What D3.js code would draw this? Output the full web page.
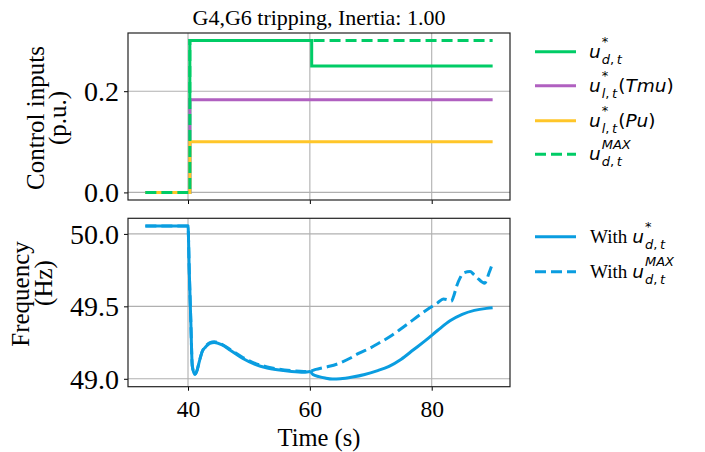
<!DOCTYPE html>
<html>
<head>
<meta charset="utf-8">
<script src="https://cdn.jsdelivr.net/npm/d3@7"></script>
<style>
  html, body { margin: 0; padding: 0; background: #fff; }
  svg { display: block; }
</style>
</head>
<body>
<svg id="chart" width="705" height="452"></svg>
<script>
// ---------------- DATA ----------------
const titleText = "G4,G6 tripping, Inertia: 1.00";
const xTicks = [40, 60, 80];
const topYTicks = [0.0, 0.2];
const bottomYTicks = [49.0, 49.5, 50.0];

// Control inputs (step functions)
const ctrlTime = [33, 40.3, 60.3, 90];
const udStar   = [0, 0.30, 0.25, 0.25];
const ulTmu    = [0, 0.183, 0.183, 0.183];
const ulPu     = [0, 0.10, 0.10, 0.10];
const udMax    = [0, 0.30, 0.30, 0.30];

// Frequency with u*_{d,t}
const freqTimeA = [33, 40.0, 40.2, 40.45, 40.7, 41.1, 41.5, 41.8, 42.35, 42.9, 43.6, 44.3, 45.5, 47, 49, 51, 53, 55, 57, 59, 60, 60.5, 61.5, 62.5, 63.7, 65, 67, 69, 71, 73, 75, 77, 79, 81, 83, 85, 87, 89, 90];
const freqA     = [50.055, 50.055, 49.75, 49.41, 49.09, 49.03, 49.06, 49.11, 49.19, 49.22, 49.245, 49.25, 49.235, 49.195, 49.14, 49.10, 49.075, 49.06, 49.05, 49.045, 49.05, 49.03, 49.015, 49.005, 48.998, 49.0, 49.012, 49.03, 49.055, 49.086, 49.135, 49.20, 49.265, 49.335, 49.40, 49.445, 49.472, 49.486, 49.49];

// Frequency with u^MAX_{d,t}
const freqTimeB = [33, 40.0, 40.2, 40.45, 40.7, 41.1, 41.5, 41.8, 42.35, 42.9, 43.6, 44.3, 45.5, 47, 49, 51, 53, 55, 57, 59, 60, 61, 62, 63.2, 65, 66.5, 68, 69.8, 71.5, 73.1, 74.8, 76.4, 78, 79.7, 81, 81.9, 82.6, 83.2, 83.6, 84.1, 84.7, 85.2, 86.3, 86.9, 87.4, 88.7, 89.4, 90];
const freqB     = [50.055, 50.055, 49.75, 49.41, 49.09, 49.03, 49.06, 49.11, 49.19, 49.225, 49.25, 49.255, 49.24, 49.20, 49.147, 49.107, 49.082, 49.066, 49.056, 49.05, 49.052, 49.065, 49.075, 49.086, 49.11, 49.14, 49.175, 49.21, 49.25, 49.29, 49.34, 49.39, 49.44, 49.49, 49.525, 49.55, 49.545, 49.535, 49.57, 49.64, 49.70, 49.73, 49.74, 49.72, 49.70, 49.66, 49.73, 49.80];

// ---------------- STYLE ----------------
const C_GREEN = "#00cc66", C_PURPLE = "#b060c0", C_YELLOW = "#ffc629", C_BLUE = "#0a9de0";
const SERIF = "'Liberation Serif', 'Times New Roman', serif";
const SANS = "'DejaVu Sans', sans-serif";

const svg = d3.select("#chart");
const L = 128, R = 510;
const topBox = {y0: 33, y1: 200};
const botBox = {y0: 218.3, y1: 386.7};

const x = d3.scaleLinear().domain([30.15, 92.85]).range([L, R]);
const yTop = d3.scaleLinear().domain([-0.015, 0.315]).range([topBox.y1, topBox.y0]);
const yBot = d3.scaleLinear().domain([48.9454, 50.1076]).range([botBox.y1, botBox.y0]);

function drawAxes(box, y, yTicks, fmt, showXLabels) {
  const g = svg.append("g");
  g.selectAll(".gx").data(xTicks).enter().append("line")
    .attr("x1", d => x(d)).attr("x2", d => x(d))
    .attr("y1", box.y0).attr("y2", box.y1)
    .attr("stroke", "#b0b0b0").attr("stroke-width", 1.1);
  g.selectAll(".gy").data(yTicks).enter().append("line")
    .attr("x1", L).attr("x2", R)
    .attr("y1", d => y(d)).attr("y2", d => y(d))
    .attr("stroke", "#b0b0b0").attr("stroke-width", 1.1);
  const xa = d3.axisBottom(x).tickValues(xTicks).tickSize(4).tickPadding(6)
    .tickFormat(showXLabels ? d3.format("d") : "");
  const xg = svg.append("g").attr("transform", `translate(0,${box.y1})`).call(xa);
  xg.select(".domain").remove();
  xg.selectAll("line").attr("stroke", "#000").attr("stroke-width", 1);
  xg.selectAll("text").attr("font-family", SERIF).attr("font-size", 23.6).attr("fill", "#000")
    .attr("dy", null).attr("y", 30.5);
  const ya = d3.axisLeft(y).tickValues(yTicks).tickSize(4).tickPadding(5).tickFormat(fmt);
  const yg = svg.append("g").attr("transform", `translate(${L},0)`).call(ya);
  yg.select(".domain").remove();
  yg.selectAll("line").attr("stroke", "#000").attr("stroke-width", 1);
  yg.selectAll("text").attr("font-family", SERIF).attr("font-size", 28).attr("fill", "#000")
    .attr("dy", "0.34em");
  return g;
}

function frame(box) {
  svg.append("rect").attr("x", L).attr("y", box.y0)
    .attr("width", R - L).attr("height", box.y1 - box.y0)
    .attr("fill", "none").attr("stroke", "#222").attr("stroke-width", 1.2);
}

// ---------- Top panel ----------
drawAxes(topBox, yTop, topYTicks, d3.format(".1f"), false);
svg.append("clipPath").attr("id", "ct").append("rect")
  .attr("x", L).attr("y", topBox.y0).attr("width", R - L).attr("height", topBox.y1 - topBox.y0);
const gTop = svg.append("g").attr("clip-path", "url(#ct)");
const stepLine = d3.line().x(d => x(d[0])).y(d => yTop(d[1])).curve(d3.curveStepAfter);
const topSeries = [
  {vals: udStar, color: C_GREEN, dash: null},
  {vals: ulTmu,  color: C_PURPLE, dash: null},
  {vals: ulPu,   color: C_YELLOW, dash: null},
  {vals: udMax,  color: C_GREEN, dash: "11,5"}
];
topSeries.forEach(s => {
  gTop.append("path").datum(ctrlTime.map((t, i) => [t, s.vals[i]]))
    .attr("d", stepLine).attr("fill", "none").attr("stroke", s.color)
    .attr("stroke-width", 3).attr("stroke-dasharray", s.dash);
});
frame(topBox);

// ---------- Bottom panel ----------
drawAxes(botBox, yBot, bottomYTicks, d3.format(".1f"), true);
svg.append("clipPath").attr("id", "cb").append("rect")
  .attr("x", L).attr("y", botBox.y0).attr("width", R - L).attr("height", botBox.y1 - botBox.y0);
const gBot = svg.append("g").attr("clip-path", "url(#cb)");
const fLine = d3.line().x(d => x(d[0])).y(d => yBot(d[1])).curve(d3.curveMonotoneX);
gBot.append("path").datum(freqTimeA.map((t, i) => [t, freqA[i]]))
  .attr("d", fLine).attr("fill", "none").attr("stroke", C_BLUE).attr("stroke-width", 3)
  .attr("stroke-linejoin", "round");
gBot.append("path").datum(freqTimeB.map((t, i) => [t, freqB[i]]))
  .attr("d", fLine).attr("fill", "none").attr("stroke", C_BLUE).attr("stroke-width", 3)
  .attr("stroke-dasharray", "11,5");
frame(botBox);

// ---------- Title & labels ----------
svg.append("text").attr("x", (L + R) / 2).attr("y", 25).attr("text-anchor", "middle")
  .attr("font-family", SERIF).attr("font-size", 22).text(titleText);
svg.append("text").attr("x", (L + R) / 2).attr("y", 446).attr("text-anchor", "middle")
  .attr("font-family", SERIF).attr("font-size", 24.5).text("Time (s)");

function yLabel(lines, cys, xs) {
  lines.forEach((ln, i) => {
    svg.append("text").attr("transform", `translate(${xs[i]},${cys[i]}) rotate(-90)`)
      .attr("text-anchor", "middle").attr("font-family", SERIF).attr("font-size", 25).text(ln);
  });
}
yLabel(["Control inputs", "(p.u.)"], [118, 118], [43.5, 66]);
yLabel(["Frequency", "(Hz)"], [294, 283], [29, 52]);

// ---------- Legends (mathtext-like) ----------
const FS = 18.5, SFS = 13;
function mathLabel(xp, yp, prefix, sup, sub, suffix) {
  const g = svg.append("g");
  let cx = xp;
  if (prefix) {
    const t = g.append("text").attr("x", cx).attr("y", yp).attr("font-family", SERIF)
      .attr("font-size", 19).text(prefix);
    cx += t.node().getComputedTextLength() + 5;
  }
  const u = g.append("text").attr("x", cx).attr("y", yp).attr("font-family", SANS)
    .attr("font-style", "italic").attr("font-size", FS).text("u");
  cx += u.node().getComputedTextLength() + 1;
  const supT = g.append("text").attr("x", cx).attr("y", yp - 11.5).attr("font-family", SANS)
    .attr("font-style", sup === "*" ? "normal" : "italic").attr("font-size", SFS).text(sup);
  const subT = g.append("text").attr("x", cx).attr("y", yp + 6).attr("font-family", SANS)
    .attr("font-size", SFS);
  sub.forEach(p => subT.append("tspan").attr("font-style", p.it ? "italic" : "normal").text(p.s));
  const w = Math.max(supT.node().getComputedTextLength(), subT.node().getComputedTextLength());
  cx += w + 1;
  if (suffix) {
    const s = g.append("text").attr("x", cx).attr("y", yp).attr("font-family", SANS)
      .attr("font-size", FS);
    suffix.forEach(p => s.append("tspan").attr("font-style", p.it ? "italic" : "normal").text(p.s));
  }
}
const subDT = [{s: "d", it: true}, {s: ",\u2009", it: false}, {s: "t", it: true}];
const subLT = [{s: "l", it: true}, {s: ",\u2009", it: false}, {s: "t", it: true}];

const topLegend = [
  {y: 51.7, color: C_GREEN, dash: null, sup: "*", sub: subDT, suffix: null},
  {y: 85.7, color: C_PURPLE, dash: null, sup: "*", sub: subLT,
   suffix: [{s: "(", it: false}, {s: "Tmu", it: true}, {s: ")", it: false}]},
  {y: 120.7, color: C_YELLOW, dash: null, sup: "*", sub: subLT,
   suffix: [{s: "(", it: false}, {s: "Pu", it: true}, {s: ")", it: false}]},
  {y: 154.3, color: C_GREEN, dash: "11,5", sup: "MAX", sub: subDT, suffix: null}
];
topLegend.forEach(e => {
  svg.append("line").attr("x1", 535).attr("x2", 576).attr("y1", e.y).attr("y2", e.y)
    .attr("stroke", e.color).attr("stroke-width", 3).attr("stroke-dasharray", e.dash);
  mathLabel(589, e.y + 6, null, e.sup, e.sub, e.suffix);
});
const botLegend = [
  {y: 236.7, dash: null, sup: "*"},
  {y: 271.7, dash: "11,5", sup: "MAX"}
];
botLegend.forEach(e => {
  svg.append("line").attr("x1", 535).attr("x2", 576).attr("y1", e.y).attr("y2", e.y)
    .attr("stroke", C_BLUE).attr("stroke-width", 3).attr("stroke-dasharray", e.dash);
  mathLabel(590, e.y + 6, "With", e.sup, subDT, null);
});
</script>
</body>
</html>
